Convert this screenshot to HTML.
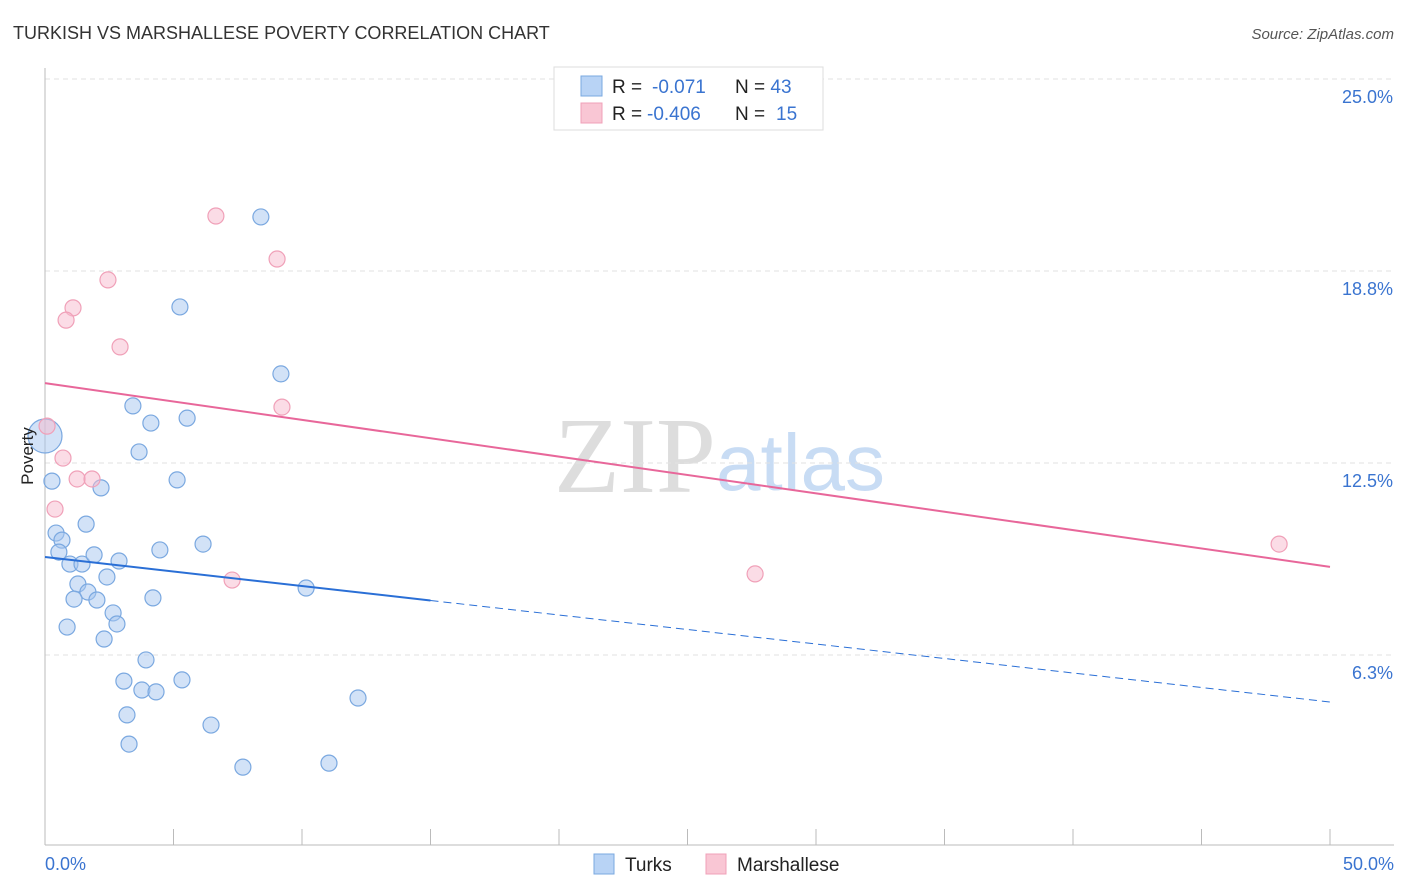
<!DOCTYPE html>
<html><head><meta charset="utf-8"><style>
body{margin:0;background:#fff;font-family:"Liberation Sans",sans-serif}
svg{display:block}
</style></head><body>
<svg id="chart" width="1406" height="892">
<text x="13" y="39" font-size="18" fill="#333">TURKISH VS MARSHALLESE POVERTY CORRELATION CHART</text>
<text x="1394" y="39" font-size="15" fill="#555" font-style="italic" text-anchor="end">Source: ZipAtlas.com</text>
<text x="716" y="492" font-size="108" fill="#ddd" text-anchor="end" font-family="Liberation Serif">ZIP</text>
<text x="716" y="490" font-size="80" fill="#c8dcf4">atlas</text>
<g id="grid"></g>
<g id="marks"></g>
<text x="33" y="456" font-size="17" fill="#222" transform="rotate(-90 33 456)" text-anchor="middle">Poverty</text>
<text x="45" y="870" font-size="18" fill="#3a74d0">0.0%</text>
<text x="1394" y="870" font-size="18" fill="#3a74d0" text-anchor="end">50.0%</text>
<g>
<rect x="554" y="67" width="269" height="63" fill="#fff" stroke="#ddd"/>
<rect x="581" y="76" width="21" height="20" fill="#b8d3f5" stroke="#7aa8e0"/>
<rect x="581" y="103" width="21" height="20" fill="#f9c6d4" stroke="#f0a0b8"/>
<text x="612" y="93" font-size="19" fill="#222">R = <tspan fill="#3a74d0" x="652">-0.071</tspan><tspan x="735">N = </tspan><tspan fill="#3a74d0">43</tspan></text>
<text x="612" y="120" font-size="19" fill="#222">R = <tspan fill="#3a74d0" x="647">-0.406</tspan><tspan x="735">N = </tspan><tspan fill="#3a74d0" x="776">15</tspan></text>
</g>
<g>
<rect x="594" y="854" width="20" height="20" fill="#b8d3f5" stroke="#7aa8e0"/>
<text x="625" y="871" font-size="19" fill="#222">Turks</text>
<rect x="706" y="854" width="20" height="20" fill="#f9c6d4" stroke="#f0a0b8"/>
<text x="737" y="871" font-size="19" fill="#222">Marshallese</text>
</g>
</svg>
<script>
const yTicks=[25.0,18.8,12.5,6.3];
const yTickPos=[25,18.75,12.5,6.25];
const turksX=[0,0.27,0.43,0.66,0.54,0.97,1.44,1.91,2.88,1.6,2.18,1.28,1.67,1.13,2.02,2.41,2.65,2.8,2.3,0.86,3.42,4.12,3.66,5.25,5.53,5.14,4.47,6.15,4.2,3.93,3.07,3.77,4.32,5.33,3.19,3.27,6.46,7.7,8.4,9.18,10.16,12.18,11.05];
const turksY=[13.38,11.91,10.22,9.99,9.6,9.21,9.21,9.51,9.31,10.51,11.69,8.56,8.3,8.07,8.04,8.79,7.62,7.26,6.77,7.16,14.36,13.8,12.86,17.58,13.96,11.95,9.67,9.86,8.11,6.09,5.4,5.11,5.05,5.44,4.3,3.35,3.97,2.6,20.51,15.4,8.43,4.85,2.73];
const marX=[6.65,9.03,2.45,1.09,0.82,2.92,9.22,0.08,0.7,1.25,1.83,0.39,7.28,27.63,48.02];
const marY=[20.54,19.14,18.46,17.55,17.15,16.28,14.32,13.7,12.66,11.98,11.98,11.0,8.69,8.89,9.86];
const turksTrend=[9.44,4.72];
const marTrend=[15.1,9.12];
const sx=v=>45+v*25.7, sy=v=>847-v*30.72;
const NS='http://www.w3.org/2000/svg';
const grid=document.getElementById('grid'), marks=document.getElementById('marks');
function mk(tag,attrs,parent){const e=document.createElementNS(NS,tag);for(const k in attrs)e.setAttribute(k,attrs[k]);parent.appendChild(e);return e;}
yTickPos.forEach((v,i)=>{
 const l=mk('line',{x1:45,x2:1394,y1:sy(v),y2:sy(v),stroke:'#e2e2e2','stroke-dasharray':'5,4'},grid);
 
 
 const t=mk('text',{x:1393,y:sy(v)+24,'font-size':18,fill:'#3a74d0','text-anchor':'end'},grid);
 t.textContent=yTicks[i].toFixed(1)+'%';
 
 
});
const ax=mk('line',{x1:45,x2:45,y1:68,y2:845,stroke:'#bbb'},grid);


const bx=mk('line',{x1:45,x2:1394,y1:845,y2:845,stroke:'#bbb'},grid);


for(let i=0;i<=10;i++){const t=mk('line',{x1:sx(i*5),x2:sx(i*5),y1:829,y2:845,stroke:'#bbb'},grid);
 
 }
turksX.forEach((x,i)=>{const c=mk('circle',{cx:sx(x),cy:sy(turksY[i]),r:i===0?17:8,fill:'rgba(165,198,240,0.5)',stroke:'#7aa8e0','stroke-width':1.2},marks);
 
 });
marX.forEach((x,i)=>{const c=mk('circle',{cx:sx(x),cy:sy(marY[i]),r:8,fill:'rgba(248,185,205,0.5)',stroke:'#f0a0b8','stroke-width':1.2},marks);
 
 });
const ty=x=>turksTrend[0]+(turksTrend[1]-turksTrend[0])*x/50;
const l1=mk('line',{x1:sx(0),y1:sy(ty(0)),x2:sx(15),y2:sy(ty(15)),stroke:'#2a6fd6','stroke-width':2},marks);


const l2=mk('line',{x1:sx(15),y1:sy(ty(15)),x2:sx(50),y2:sy(ty(50)),stroke:'#2a6fd6','stroke-width':1,'stroke-dasharray':'8,5'},marks);


const l3=mk('line',{x1:sx(0),y1:sy(marTrend[0]),x2:sx(50),y2:sy(marTrend[1]),stroke:'#e8679a','stroke-width':2},marks);


</script>
</body></html>
